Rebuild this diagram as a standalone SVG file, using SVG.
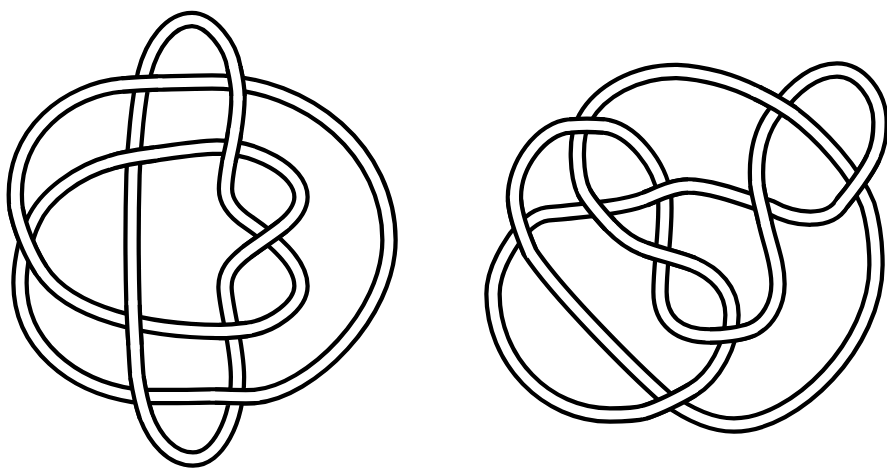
<svg xmlns="http://www.w3.org/2000/svg" width="887" height="468" viewBox="0 0 887 468">
<style>
.edge{fill:none;stroke:#000;stroke-width:17.5;stroke-linecap:butt;stroke-linejoin:round}
.core{fill:none;stroke:#fff;stroke-width:9;stroke-linecap:butt;stroke-linejoin:round}
.cover{fill:none;stroke:#fff;stroke-width:9;stroke-linecap:square;stroke-linejoin:round}
</style>
<defs>
<path id="left-loop" d="M192 19.5C210 19.5 230.6 45 234 68C236 77 237.9 86 238 96C238.1 108 236.5 121 234.5 133C233 144 231 151 229 161C227 172 225.5 180 225.5 189C225.5 203 236 214 248 222C272.6 239 301 262 301 286C301 306 272 326.2 247 329.5C238 330.6 228 331.7 219 331.5C150 331 70 315 41 270C30.5 254 19.5 228 16 208C8 130 72 89 122 85C134 84 146 83.3 158 83C176 82.6 194 82 212 82C310 82 389 153 389 240C389 315 310 392 255 396.5C242 397 228 396.3 215 396C190 396.5 150 397.5 133 395.5C72 386 20 345 20 283C20 265 25 238 33 222C44 196 78 171 112 162C126 157.6 140 156 155 154C176 151 197 147.5 217 147C255 147 301 170 301 197C301 208 292 218.6 283 226C274.8 232.7 255.5 245.5 247 252C233 263 225 272 225 287C225 305 237.5 345 237.5 377C237.5 422 217 459 193 459C172 459 155 440 146 416C143 407 138.8 389 137 377C136 366 135.5 356 135 345C134.3 333 133.5 320 133 305C132 270 132 210 133 175C134 145 138 100 144.5 73C152 44 170 19.5 192 19.5Z"/>
<path id="left-over" d="M234 68C236 77 237.9 86 238 96M234.5 133C233 144 231 151 229 161M247 329.5C238 330.6 228 331.7 219 331.5M41 270C30.5 254 19.5 228 16 208M122 85C134 84 146 83.3 158 83M255 396.5C242 397 228 396.3 215 396M112 162C126 157.6 140 156 155 154M283 226C274.8 232.7 255.5 245.5 247 252M146 416C143 407 138.8 389 137 377M135 345C134.3 333 133.5 320 133 305"/>
<path id="right-loop" d="M677 71.5C705 73 733 81 757 93C768.3 98.3 781.7 105.8 792 113C820 134 854 170 868 205C873 222 876 245 876 265C876 345 795 425 734 425C712 425 688 414 666 398C634 370 557 293 530 252C524.1 238.3 515.4 216.2 514.5 200C513 165 542 127.5 570 126C580 125 594 125 604 126C632 129 660 165 664.5 196C667 225 660 262 660 292C660 322 680 336 710 336C722 336 741 334 752 329.5C768 322 778 304 778 284C778 262 770 245 765 222C762.7 210.2 758.3 197 757 185C755 160 758 134 775 112C789 93 811 70 837 70C860 70 880 95 880 122C880 135 879 145 873 158C866.7 171.8 850 193.5 842 203C830 224 795 221 770 207C745 199 712 186 688 186C672 186 656 195 645 199C625 207 590 210 547 214C535 215.5 522 227 513.5 240C504 254 493 274 493 294C493 360 546 415 610 415C622 415 634 415 645 412C658.7 408 681.3 396.5 692 390C714 377 732 345 732 315C732 290 715 273 693 264C680.5 258.8 656 253.2 645 249C632 244.5 620 235.5 610 225C602.8 217.2 589.5 202.8 584 192C577 178 573 138 585 118C600 92 635 71 677 71.5Z"/>
<path id="right-over" d="M757 93C768.3 98.3 781.7 105.8 792 113M530 252C524.1 238.3 515.4 216.2 514.5 200M570 126C580 125 594 125 604 126M710 336C722 336 741 334 752 329.5M765 222C762.7 210.2 758.3 197 757 185M873 158C866.7 171.8 850 193.5 842 203M688 186C672 186 656 195 645 199M645 412C658.7 408 681.3 396.5 692 390M693 264C680.5 258.8 656 253.2 645 249M610 225C602.8 217.2 589.5 202.8 584 192"/>
</defs>
<rect width="887" height="468" fill="#fff"/>
<g id="knot-left">
<use href="#left-loop" class="edge"/>
<use href="#left-loop" class="core"/>
<use href="#left-over" class="edge"/>
<use href="#left-over" class="cover"/>
</g>
<g id="knot-right">
<use href="#right-loop" class="edge"/>
<use href="#right-loop" class="core"/>
<use href="#right-over" class="edge"/>
<use href="#right-over" class="cover"/>
</g>
</svg>
